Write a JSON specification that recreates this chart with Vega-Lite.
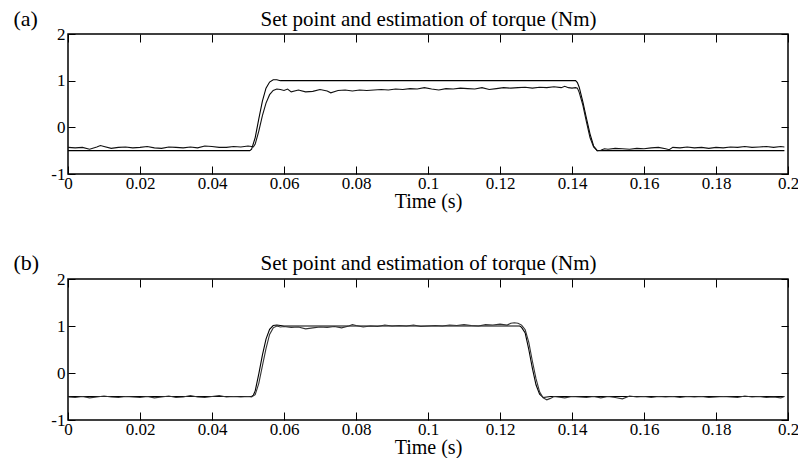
{
  "$schema": "https://vega.github.io/schema/vega-lite/v6.json",
  "padding": {"left": 12, "top": 6, "right": 1, "bottom": 0},
  "background": "white",
  "config": {
    "font": "Liberation Serif",
    "view": {"stroke": "black", "strokeWidth": 1.5},
    "style": {
      "guide-label": {"font": "Liberation Serif", "fontSize": 17, "fill": "black"},
      "guide-title": {"font": "Liberation Serif", "fontSize": 20, "fill": "black", "fontWeight": "normal"}
    },
    "axis": {
      "labelFont": "Liberation Serif", "labelFontSize": 17, "labelColor": "black",
      "titleFont": "Liberation Serif", "titleFontSize": 20, "titleColor": "black", "titleFontWeight": "normal",
      "domain": false, "grid": false, "tickColor": "black", "tickWidth": 1,
      "labelFlush": false, "labelOverlap": false
    }
  },
  "datasets": {
    "aSet": [
      {"t":0,"v":-0.5},{"t":0.0505,"v":-0.5},{"t":0.051,"v":-0.47},{"t":0.052,"v":-0.22},{"t":0.053,"v":0.18},{"t":0.054,"v":0.56},{"t":0.055,"v":0.84},{"t":0.056,"v":0.97},{"t":0.057,"v":1.02},{"t":0.058,"v":1.02},{"t":0.059,"v":1.0},{"t":0.141,"v":1.0},{"t":0.1415,"v":0.96},{"t":0.142,"v":0.86},{"t":0.143,"v":0.55},{"t":0.144,"v":0.2},{"t":0.145,"v":-0.14},{"t":0.146,"v":-0.4},{"t":0.147,"v":-0.5},{"t":0.199,"v":-0.5}
    ],
    "aEst": [
      {"t":0,"v":-0.43},{"t":0.002,"v":-0.44},{"t":0.004,"v":-0.43},{"t":0.006,"v":-0.47},{"t":0.008,"v":-0.42},{"t":0.009,"v":-0.39},{"t":0.010,"v":-0.41},{"t":0.012,"v":-0.45},{"t":0.014,"v":-0.43},{"t":0.016,"v":-0.42},{"t":0.018,"v":-0.44},{"t":0.020,"v":-0.43},{"t":0.022,"v":-0.41},{"t":0.024,"v":-0.44},{"t":0.026,"v":-0.45},{"t":0.028,"v":-0.42},{"t":0.030,"v":-0.43},{"t":0.032,"v":-0.44},{"t":0.034,"v":-0.42},{"t":0.036,"v":-0.44},{"t":0.038,"v":-0.40},{"t":0.040,"v":-0.41},{"t":0.042,"v":-0.43},{"t":0.044,"v":-0.43},{"t":0.046,"v":-0.41},{"t":0.048,"v":-0.42},{"t":0.050,"v":-0.40},{"t":0.051,"v":-0.41},{"t":0.0515,"v":-0.42},
      {"t":0.052,"v":-0.36},{"t":0.053,"v":-0.08},{"t":0.054,"v":0.25},{"t":0.055,"v":0.52},{"t":0.056,"v":0.70},{"t":0.057,"v":0.79},{"t":0.058,"v":0.82},{"t":0.059,"v":0.81},{"t":0.060,"v":0.79},{"t":0.061,"v":0.82},{"t":0.062,"v":0.76},{"t":0.064,"v":0.80},{"t":0.066,"v":0.76},{"t":0.068,"v":0.77},{"t":0.070,"v":0.81},{"t":0.072,"v":0.78},{"t":0.073,"v":0.74},{"t":0.075,"v":0.79},{"t":0.077,"v":0.80},{"t":0.079,"v":0.78},{"t":0.081,"v":0.80},{"t":0.083,"v":0.79},{"t":0.085,"v":0.80},{"t":0.087,"v":0.81},{"t":0.089,"v":0.80},{"t":0.091,"v":0.82},{"t":0.093,"v":0.81},{"t":0.095,"v":0.83},{"t":0.097,"v":0.82},{"t":0.099,"v":0.85},{"t":0.101,"v":0.82},{"t":0.103,"v":0.80},{"t":0.105,"v":0.83},{"t":0.107,"v":0.82},{"t":0.109,"v":0.84},{"t":0.111,"v":0.83},{"t":0.113,"v":0.82},{"t":0.115,"v":0.85},{"t":0.117,"v":0.81},{"t":0.119,"v":0.83},{"t":0.121,"v":0.85},{"t":0.123,"v":0.84},{"t":0.125,"v":0.85},{"t":0.127,"v":0.86},{"t":0.129,"v":0.84},{"t":0.131,"v":0.86},{"t":0.133,"v":0.85},{"t":0.135,"v":0.87},{"t":0.137,"v":0.85},{"t":0.138,"v":0.88},{"t":0.139,"v":0.85},{"t":0.140,"v":0.84},{"t":0.141,"v":0.85},{"t":0.1415,"v":0.84},
      {"t":0.142,"v":0.75},{"t":0.143,"v":0.48},{"t":0.144,"v":0.12},{"t":0.145,"v":-0.22},{"t":0.146,"v":-0.42},{"t":0.147,"v":-0.50},{"t":0.148,"v":-0.49},{"t":0.149,"v":-0.46},{"t":0.150,"v":-0.47},{"t":0.152,"v":-0.45},{"t":0.154,"v":-0.46},{"t":0.156,"v":-0.47},{"t":0.158,"v":-0.45},{"t":0.160,"v":-0.46},{"t":0.162,"v":-0.44},{"t":0.164,"v":-0.43},{"t":0.166,"v":-0.46},{"t":0.167,"v":-0.48},{"t":0.168,"v":-0.43},{"t":0.170,"v":-0.44},{"t":0.172,"v":-0.42},{"t":0.174,"v":-0.44},{"t":0.176,"v":-0.43},{"t":0.178,"v":-0.45},{"t":0.180,"v":-0.43},{"t":0.182,"v":-0.44},{"t":0.184,"v":-0.42},{"t":0.186,"v":-0.43},{"t":0.188,"v":-0.41},{"t":0.190,"v":-0.43},{"t":0.192,"v":-0.42},{"t":0.194,"v":-0.41},{"t":0.196,"v":-0.43},{"t":0.198,"v":-0.41},{"t":0.199,"v":-0.42}
    ],
    "bSet": [
      {"t":0,"v":-0.5},{"t":0.051,"v":-0.5},{"t":0.0515,"v":-0.47},{"t":0.052,"v":-0.38},{"t":0.053,"v":-0.02},{"t":0.054,"v":0.38},{"t":0.055,"v":0.72},{"t":0.056,"v":0.93},{"t":0.057,"v":1.01},{"t":0.058,"v":1.02},{"t":0.059,"v":1.01},{"t":0.060,"v":1.0},{"t":0.1255,"v":1.0},{"t":0.126,"v":0.97},{"t":0.127,"v":0.85},{"t":0.128,"v":0.5},{"t":0.129,"v":0.1},{"t":0.130,"v":-0.25},{"t":0.131,"v":-0.45},{"t":0.132,"v":-0.52},{"t":0.133,"v":-0.51},{"t":0.134,"v":-0.5},{"t":0.199,"v":-0.5}
    ],
    "bEst": [
      {"t":0,"v":-0.51},{"t":0.002,"v":-0.52},{"t":0.004,"v":-0.50},{"t":0.006,"v":-0.53},{"t":0.008,"v":-0.51},{"t":0.010,"v":-0.49},{"t":0.012,"v":-0.51},{"t":0.014,"v":-0.52},{"t":0.016,"v":-0.50},{"t":0.018,"v":-0.51},{"t":0.020,"v":-0.52},{"t":0.022,"v":-0.50},{"t":0.024,"v":-0.53},{"t":0.026,"v":-0.51},{"t":0.028,"v":-0.49},{"t":0.030,"v":-0.52},{"t":0.032,"v":-0.51},{"t":0.034,"v":-0.48},{"t":0.036,"v":-0.51},{"t":0.038,"v":-0.52},{"t":0.040,"v":-0.50},{"t":0.042,"v":-0.48},{"t":0.044,"v":-0.51},{"t":0.046,"v":-0.50},{"t":0.048,"v":-0.51},{"t":0.050,"v":-0.50},{"t":0.051,"v":-0.51},
      {"t":0.052,"v":-0.46},{"t":0.053,"v":-0.22},{"t":0.054,"v":0.15},{"t":0.055,"v":0.52},{"t":0.056,"v":0.82},{"t":0.057,"v":0.96},{"t":0.058,"v":1.0},{"t":0.059,"v":0.98},{"t":0.060,"v":0.99},{"t":0.062,"v":0.97},{"t":0.064,"v":0.98},{"t":0.066,"v":0.94},{"t":0.068,"v":0.96},{"t":0.070,"v":0.98},{"t":0.072,"v":0.97},{"t":0.074,"v":0.99},{"t":0.076,"v":0.96},{"t":0.078,"v":1.0},{"t":0.079,"v":1.03},{"t":0.080,"v":1.01},{"t":0.082,"v":0.98},{"t":0.084,"v":1.0},{"t":0.086,"v":0.99},{"t":0.088,"v":1.02},{"t":0.090,"v":1.0},{"t":0.092,"v":1.01},{"t":0.094,"v":1.0},{"t":0.096,"v":1.02},{"t":0.098,"v":0.99},{"t":0.100,"v":1.0},{"t":0.102,"v":1.01},{"t":0.104,"v":1.0},{"t":0.106,"v":1.02},{"t":0.108,"v":1.01},{"t":0.110,"v":1.03},{"t":0.112,"v":1.01},{"t":0.114,"v":1.0},{"t":0.116,"v":1.03},{"t":0.118,"v":1.02},{"t":0.120,"v":1.04},{"t":0.122,"v":1.02},{"t":0.123,"v":1.06},{"t":0.124,"v":1.07},{"t":0.125,"v":1.06},{"t":0.126,"v":1.02},
      {"t":0.127,"v":0.92},{"t":0.128,"v":0.65},{"t":0.129,"v":0.25},{"t":0.130,"v":-0.12},{"t":0.131,"v":-0.40},{"t":0.132,"v":-0.53},{"t":0.133,"v":-0.57},{"t":0.134,"v":-0.54},{"t":0.135,"v":-0.50},{"t":0.136,"v":-0.51},{"t":0.138,"v":-0.53},{"t":0.140,"v":-0.50},{"t":0.142,"v":-0.51},{"t":0.144,"v":-0.52},{"t":0.146,"v":-0.50},{"t":0.148,"v":-0.53},{"t":0.150,"v":-0.50},{"t":0.152,"v":-0.52},{"t":0.154,"v":-0.55},{"t":0.156,"v":-0.49},{"t":0.158,"v":-0.51},{"t":0.160,"v":-0.50},{"t":0.162,"v":-0.52},{"t":0.164,"v":-0.50},{"t":0.166,"v":-0.51},{"t":0.168,"v":-0.50},{"t":0.170,"v":-0.52},{"t":0.172,"v":-0.50},{"t":0.174,"v":-0.51},{"t":0.176,"v":-0.50},{"t":0.178,"v":-0.52},{"t":0.180,"v":-0.51},{"t":0.182,"v":-0.50},{"t":0.184,"v":-0.51},{"t":0.186,"v":-0.52},{"t":0.188,"v":-0.49},{"t":0.190,"v":-0.51},{"t":0.192,"v":-0.50},{"t":0.194,"v":-0.52},{"t":0.196,"v":-0.51},{"t":0.198,"v":-0.53},{"t":0.199,"v":-0.50}
    ]
  },
  "bounds": "flush",
  "spacing": 105,
  "vconcat": [
    {
      "width": 720, "height": 140,
      "layer": [
        {
          "data": {"name": "aSet"},
          "mark": {"type": "line", "color": "black", "strokeWidth": 1.1},
          "encoding": {
            "x": {"field": "t", "type": "quantitative", "scale": {"domain": [0, 0.2], "nice": false},
              "axis": {"orient": "bottom", "values": [0,0.02,0.04,0.06,0.08,0.1,0.12,0.14,0.16,0.18,0.2], "labelExpr": "'' + datum.value", "labelFont": "Liberation Serif", "labelFontSize": 17, "labelColor": "black", "tickSize": -8, "labelPadding": 9, "title": "Time (s)", "titleFont": "Liberation Serif", "titleFontSize": 20, "titleY": 33, "titleBaseline": "alphabetic"}},
            "y": {"field": "v", "type": "quantitative", "scale": {"domain": [-1, 2], "nice": false, "zero": false},
              "axis": {"orient": "left", "values": [-1,0,1,2], "labelExpr": "'' + datum.value", "labelFont": "Liberation Serif", "labelFontSize": 17, "labelColor": "black", "tickSize": -7, "labelPadding": 10, "title": "(a)", "titleFont": "Liberation Serif", "titleAngle": 0, "titleAlign": "left", "titleX": -55, "titleY": -9, "titleBaseline": "alphabetic", "titleFontSize": 22}}
          }
        },
        {
          "data": {"name": "aEst"},
          "mark": {"type": "line", "color": "#111", "strokeWidth": 1.1},
          "encoding": {
            "x": {"field": "t", "type": "quantitative", "axis": {"orient": "top", "values": [0,0.02,0.04,0.06,0.08,0.1,0.12,0.14,0.16,0.18,0.2], "labels": false, "tickSize": -8, "title": "Set point and estimation of torque (Nm)", "titleFont": "Liberation Serif", "titleFontSize": 21, "titleX": 360, "titleY": -9, "titleAlign": "center", "titleBaseline": "alphabetic"}},
            "y": {"field": "v", "type": "quantitative", "axis": {"orient": "right", "values": [-1,0,1,2], "labels": false, "tickSize": -7, "title": null}}
          }
        }
      ],
      "resolve": {"axis": {"x": "independent", "y": "independent"}}
    },
    {
      "width": 720, "height": 141,
      "layer": [
        {
          "data": {"name": "bSet"},
          "mark": {"type": "line", "color": "black", "strokeWidth": 1.1},
          "encoding": {
            "x": {"field": "t", "type": "quantitative", "scale": {"domain": [0, 0.2], "nice": false},
              "axis": {"orient": "bottom", "values": [0,0.02,0.04,0.06,0.08,0.1,0.12,0.14,0.16,0.18,0.2], "labelExpr": "'' + datum.value", "labelFont": "Liberation Serif", "labelFontSize": 17, "labelColor": "black", "tickSize": -8, "labelPadding": 9, "title": "Time (s)", "titleFont": "Liberation Serif", "titleFontSize": 20, "titleY": 33, "titleBaseline": "alphabetic"}},
            "y": {"field": "v", "type": "quantitative", "scale": {"domain": [-1, 2], "nice": false, "zero": false},
              "axis": {"orient": "left", "values": [-1,0,1,2], "labelExpr": "'' + datum.value", "labelFont": "Liberation Serif", "labelFontSize": 17, "labelColor": "black", "tickSize": -7, "labelPadding": 10, "title": "(b)", "titleFont": "Liberation Serif", "titleAngle": 0, "titleAlign": "left", "titleX": -55, "titleY": -10, "titleBaseline": "alphabetic", "titleFontSize": 22}}
          }
        },
        {
          "data": {"name": "bEst"},
          "mark": {"type": "line", "color": "#333", "strokeWidth": 1.1},
          "encoding": {
            "x": {"field": "t", "type": "quantitative", "axis": {"orient": "top", "values": [0,0.02,0.04,0.06,0.08,0.1,0.12,0.14,0.16,0.18,0.2], "labels": false, "tickSize": -8, "title": "Set point and estimation of torque (Nm)", "titleFont": "Liberation Serif", "titleFontSize": 21, "titleX": 360, "titleY": -10, "titleAlign": "center", "titleBaseline": "alphabetic"}},
            "y": {"field": "v", "type": "quantitative", "axis": {"orient": "right", "values": [-1,0,1,2], "labels": false, "tickSize": -7, "title": null}}
          }
        }
      ],
      "resolve": {"axis": {"x": "independent", "y": "independent"}}
    }
  ]
}
